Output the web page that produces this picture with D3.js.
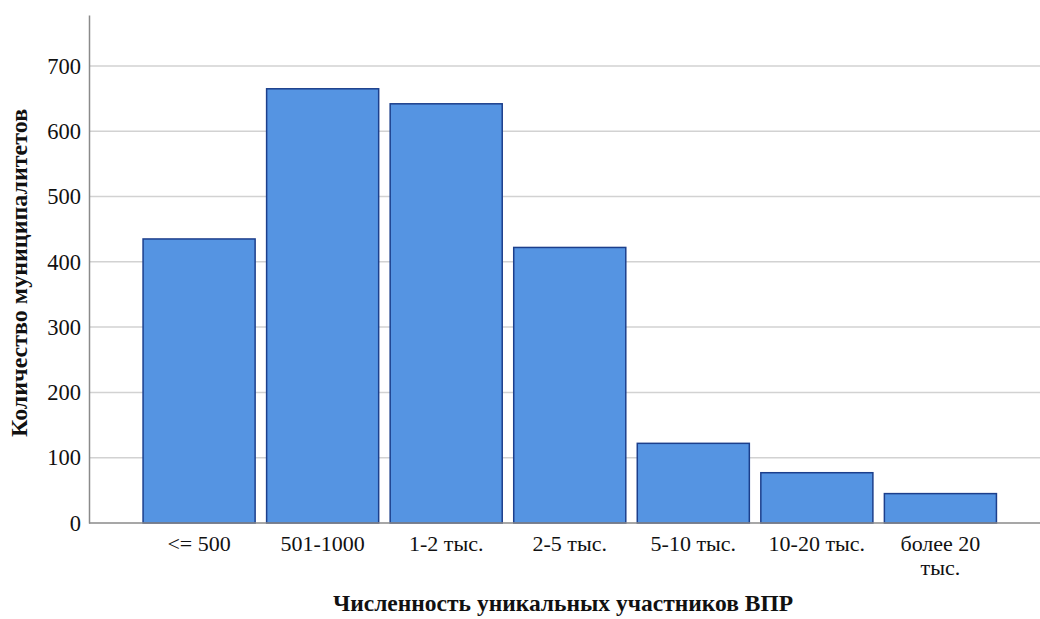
<!DOCTYPE html>
<html><head><meta charset="utf-8">
<script src="https://cdn.jsdelivr.net/npm/d3@7"></script>
<style>body{margin:0;background:#fff}</style>
</head><body>
<svg id="c" width="1040" height="619"></svg>
<script>
const categories = ["<= 500", "501-1000", "1-2 тыс.", "2-5 тыс.", "5-10 тыс.", "10-20 тыс.", "более 20 тыс."];
const values = [435, 665, 642, 422, 122, 77, 45];
const yTicks = [0, 100, 200, 300, 400, 500, 600, 700];
const xTitle = "Численность уникальных участников ВПР";
const yTitle = "Количество муниципалитетов";

(function(){
const svg = d3.select("#c");
const mLeft = 89, mRight = 1040, mTop = 15, mBottom = 523;
const y = d3.scaleLinear().domain([0, 778]).range([mBottom, mTop]);
const x = d3.scaleBand().domain(categories).range([137.5, 1002]).paddingInner(0.093).paddingOuter(0.045);
const font = "'Liberation Serif','Times New Roman',serif";

// grid
svg.append("g").selectAll("line").data(yTicks.filter(d=>d>0)).join("line")
  .attr("x1", mLeft).attr("x2", mRight).attr("y1", d=>y(d)).attr("y2", d=>y(d))
  .attr("stroke", "#d2d2d2").attr("stroke-width", 1.5);

// bars
svg.append("g").selectAll("rect").data(values).join("rect")
  .attr("x", (d,i)=>x(categories[i])).attr("width", x.bandwidth())
  .attr("y", d=>y(d)).attr("height", d=>mBottom - y(d))
  .attr("fill", "#5594e2").attr("stroke", "#1c3f8c").attr("stroke-width", 1.5);

// axes
const ya = svg.append("g").attr("transform", `translate(${mLeft},0)`)
  .call(d3.axisLeft(y).tickValues(yTicks).tickSize(0).tickPadding(8));
ya.select(".domain").attr("stroke", "#8a8a8a").attr("stroke-width", 1.5);
ya.selectAll("text").attr("font-family", font).attr("font-size", 22.5).attr("fill", "#111");

svg.append("line").attr("x1", mLeft).attr("x2", mRight).attr("y1", mBottom).attr("y2", mBottom)
  .attr("stroke", "#8a8a8a").attr("stroke-width", 1.5);

const xa = svg.append("g").attr("transform", `translate(0,${mBottom})`)
  .call(d3.axisBottom(x).tickSize(0).tickPadding(0));
xa.select(".domain").remove();
xa.selectAll("text").text(null).attr("font-family", font).attr("font-size", 22).attr("fill", "#111")
  .attr("dy", null).attr("y", 0)
  .each(function(d){
    const t = d3.select(this);
    const lines = d === "более 20 тыс." ? ["более 20", "тыс."] : [d];
    lines.forEach((l, k) => t.append("tspan").attr("x", 0).attr("y", 28 + k*23.5).text(l));
  });

svg.append("text").attr("x", 563).attr("y", 611).attr("text-anchor", "middle")
  .attr("font-family", font).attr("font-size", 23.5).attr("font-weight", "bold").attr("fill", "#111")
  .text(xTitle);
svg.append("text").attr("transform", "translate(27,273) rotate(-90)").attr("text-anchor", "middle")
  .attr("font-family", font).attr("font-size", 24).attr("font-weight", "bold").attr("fill", "#111")
  .text(yTitle);
})();
</script>
</body></html>
